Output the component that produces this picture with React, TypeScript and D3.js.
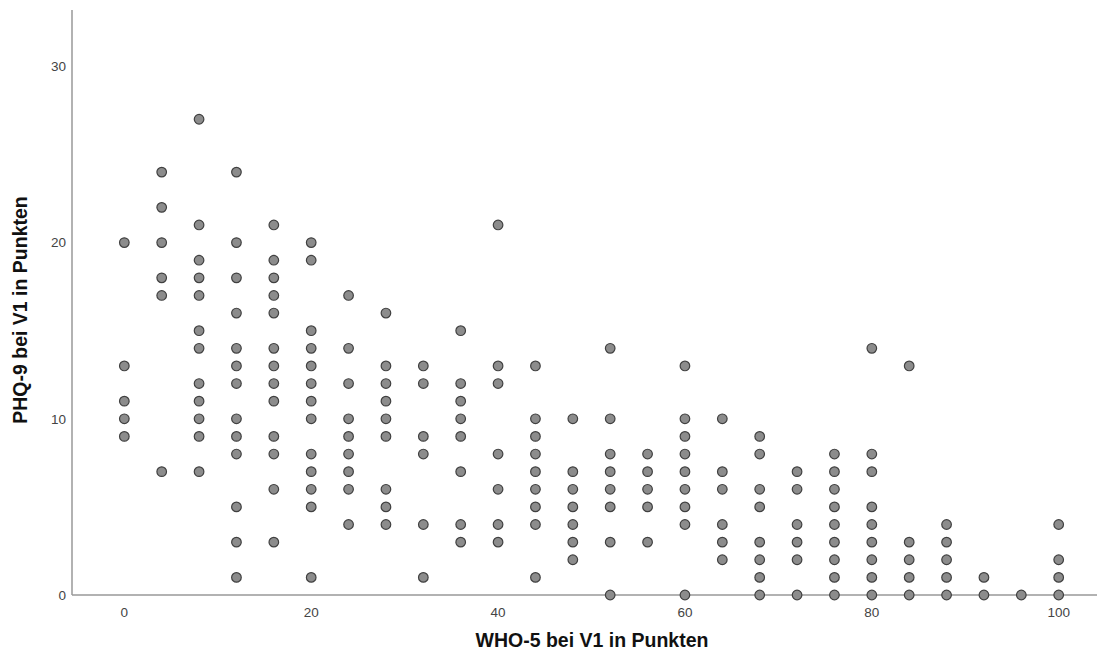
import * as d3 from "d3";

// WHO-5 score (x) and the PHQ-9 scores seen at that score (y)
const who5 = [0, 4, 8, 12, 16, 20, 24, 28, 32, 36, 40, 44, 48, 52, 56, 60, 64, 68, 72, 76, 80, 84, 88, 92, 96, 100];
const phq9: number[][] = [
  [20, 13, 11, 10, 9],
  [24, 22, 20, 18, 17, 7],
  [27, 21, 19, 18, 17, 15, 14, 12, 11, 10, 9, 7],
  [24, 20, 18, 16, 14, 13, 12, 10, 9, 8, 5, 3, 1],
  [21, 19, 18, 17, 16, 14, 13, 12, 11, 9, 8, 6, 3],
  [20, 19, 15, 14, 13, 12, 11, 10, 8, 7, 6, 5, 1],
  [17, 14, 12, 10, 9, 8, 7, 6, 4],
  [16, 13, 12, 11, 10, 9, 6, 5, 4],
  [13, 12, 9, 8, 4, 1],
  [15, 12, 11, 10, 9, 7, 4, 3],
  [21, 13, 12, 8, 6, 4, 3],
  [13, 10, 9, 8, 7, 6, 5, 4, 1],
  [10, 7, 6, 5, 4, 3, 2],
  [14, 10, 8, 7, 6, 5, 3, 0],
  [8, 7, 6, 5, 3],
  [13, 10, 9, 8, 7, 6, 5, 4, 0],
  [10, 7, 6, 4, 3, 2],
  [9, 8, 6, 5, 3, 2, 1, 0],
  [7, 6, 4, 3, 2, 0],
  [8, 7, 6, 5, 4, 3, 2, 1, 0],
  [14, 8, 7, 5, 4, 3, 2, 1, 0],
  [13, 3, 2, 1, 0],
  [4, 3, 2, 1, 0],
  [1, 0],
  [0],
  [4, 2, 1, 0],
];
const xTicks = [0, 20, 40, 60, 80, 100];
const yTicks = [0, 10, 20, 30];

const width = 1101;
const height = 658;
const font = "Arial, 'Liberation Sans', sans-serif";

const App = () => {
  const x = d3.scaleLinear().domain([-5.6, 104.1]).range([72, 1097]);
  const y = d3.scaleLinear().domain([0, 33.2]).range([595, 10]);

  const points = who5.flatMap((w, i) => phq9[i].map((p) => ({ w, p })));

  return (
    <div style={{ position: "absolute", left: 0, top: 0 }}>
      <svg width={width} height={height} style={{ display: "block", background: "#fff" }}>
        {/* axes */}
        <line x1={x.range()[0]} x2={x.range()[1]} y1={y(0)} y2={y(0)} stroke="#999" strokeWidth={1.5} />
        <line x1={x.range()[0]} x2={x.range()[0]} y1={y.range()[0]} y2={y.range()[1]} stroke="#999" strokeWidth={1.5} />

        {xTicks.map((t) => (
          <text key={t} x={x(t)} y={y(0) + 22} textAnchor="middle" fontSize={13.5} fontFamily={font} fill="#444">
            {t}
          </text>
        ))}
        {yTicks.map((t) => (
          <text key={t} x={x.range()[0] - 6} y={y(t)} dy="0.35em" textAnchor="end" fontSize={13.5} fontFamily={font} fill="#444">
            {t}
          </text>
        ))}

        <text x={592} y={647} textAnchor="middle" fontSize={19.5} fontWeight="bold" fontFamily={font} fill="#111">
          WHO-5 bei V1 in Punkten
        </text>
        <text
          transform={`translate(27,310) rotate(-90)`}
          textAnchor="middle"
          fontSize={19.5}
          fontWeight="bold"
          fontFamily={font}
          fill="#111"
        >
          PHQ-9 bei V1 in Punkten
        </text>

        {points.map((d, i) => (
          <circle key={i} cx={x(d.w)} cy={y(d.p)} r={4.8} fill="#8c8c8c" stroke="#404040" strokeWidth={1.2} />
        ))}
      </svg>
    </div>
  );
};

export default App;
